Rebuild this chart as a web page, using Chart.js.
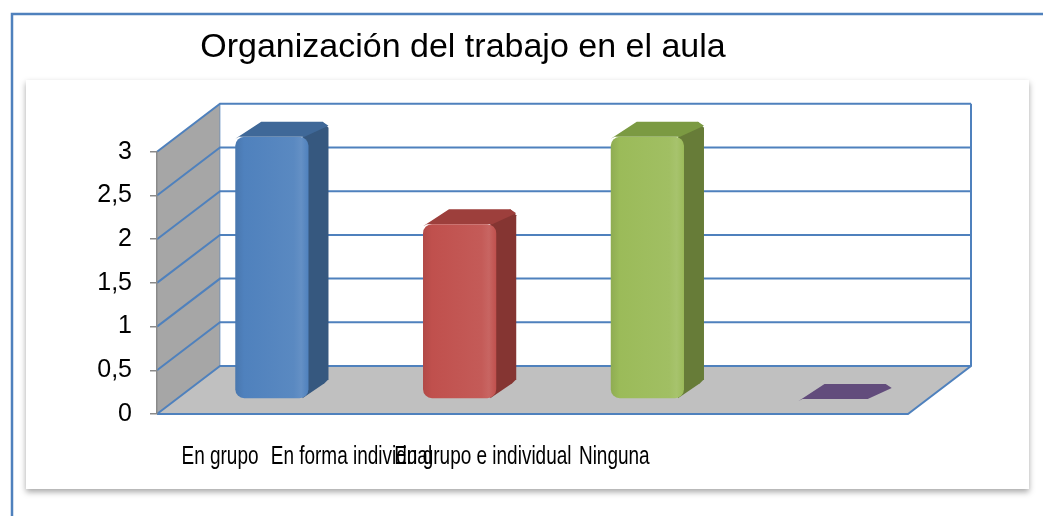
<!DOCTYPE html>
<html>
<head>
<meta charset="utf-8">
<script src="https://cdn.jsdelivr.net/npm/chart.js@4/dist/chart.umd.min.js"></script>
<style>
  html, body { margin: 0; padding: 0; background: #fff; }
  #chart { display: block; }
</style>
</head>
<body>
<canvas id="chart" width="1043" height="516"></canvas>
<script>
// Datos
const categories = ['En grupo', 'En forma individual', 'En grupo e individual', 'Ninguna'];
const values = [3, 2, 3, 0];
const yTicks = [0, 0.5, 1, 1.5, 2, 2.5, 3];

// colores de cada barra (frente, lado, tapa)
const frontColors = ['#4f81bd', '#c0504d', '#9bbb59', '#8064a2'];
const sideColors = ['#36587f', '#853532', '#677c38', '#4f3d66'];
const topColors = ['#3f6898', '#9d3f3c', '#7b9a42', '#624c7c'];

// efecto 3D
const DEPTH_X = 63, DEPTH_Y = -48;   // profundidad del piso/pared
const SHIFT_X = 21, SHIFT_Y = -15;   // plano de las barras
const BAR_DX = 20, BAR_DY = -15;     // grosor de cada barra
const BAR_PCT = 0.39;
const FONT = '"Liberation Sans", Arial, sans-serif';
const GRID = '#4f81bd';

function poly(c, pts, fill) {
  c.beginPath();
  pts.forEach((p, i) => i ? c.lineTo(p[0], p[1]) : c.moveTo(p[0], p[1]));
  c.closePath();
  c.fillStyle = fill;
  c.fill();
}

function mix(hex, amt) {
  const n = parseInt(hex.slice(1), 16);
  const ch = [n >> 16, (n >> 8) & 255, n & 255].map(v => {
    const t = amt > 0 ? 255 : 0;
    return Math.round(v + (t - v) * Math.abs(amt));
  });
  return `rgb(${ch.join(',')})`;
}

const box3d = {
  id: 'box3d',
  beforeDraw(chart) {
    const { ctx: c, chartArea: a, scales: { y } } = chart;
    c.save();
    // marco exterior
    c.strokeStyle = '#4f81bd';
    c.lineWidth = 2.5;
    c.beginPath();
    c.moveTo(12, chart.height); c.lineTo(12, 14); c.lineTo(chart.width, 14);
    c.stroke();
    // caja interior con sombra
    c.shadowColor = 'rgba(0,0,0,0.35)';
    c.shadowBlur = 6;
    c.shadowOffsetY = 3;
    c.fillStyle = '#fff';
    c.fillRect(26, 80, 1003, 409);
    c.restore();

    const y0 = y.getPixelForValue(0), yTop = y.getPixelForValue(y.max);
    c.save();
    // pared izquierda
    poly(c, [[a.left, yTop], [a.left, y0], [a.left + DEPTH_X, y0 + DEPTH_Y], [a.left + DEPTH_X, yTop + DEPTH_Y]], '#a6a6a6');
    // piso
    poly(c, [[a.left, y0], [a.right, y0], [a.right + DEPTH_X, y0 + DEPTH_Y], [a.left + DEPTH_X, y0 + DEPTH_Y]], '#c0c0c0');
    // líneas de división
    c.strokeStyle = GRID;
    c.lineWidth = 2;
    c.beginPath();
    yTicks.forEach(v => {
      const p = y.getPixelForValue(v);
      c.moveTo(a.left, p);
      c.lineTo(a.left + DEPTH_X, p + DEPTH_Y);
      c.lineTo(a.right + DEPTH_X, p + DEPTH_Y);
    });
    c.moveTo(a.right + DEPTH_X, yTop + DEPTH_Y);
    c.lineTo(a.right + DEPTH_X, y0 + DEPTH_Y);
    c.lineTo(a.right, y0);
    c.lineTo(a.left, y0);
    c.stroke();
    c.strokeStyle = 'rgba(79,129,189,0.6)';
    c.lineWidth = 1;
    c.beginPath();
    c.moveTo(a.left + DEPTH_X, yTop + DEPTH_Y);
    c.lineTo(a.left + DEPTH_X, y0 + DEPTH_Y);
    c.stroke();
    c.restore();
  },
  beforeDatasetsDraw(chart) {
    const c = chart.ctx;
    c.save();
    c.translate(SHIFT_X, SHIFT_Y);
    chart.getDatasetMeta(0).data.forEach((bar, i) => {
      const l = bar.x - bar.width / 2, r = bar.x + bar.width / 2;
      if (bar.base - bar.y > 1) {
        poly(c, [[r - 6, bar.y], [r - 6, bar.base], [r + BAR_DX - 4, bar.base + BAR_DY], [r + BAR_DX, bar.base + BAR_DY - 4],
                 [r + BAR_DX, bar.y + BAR_DY + 6], [r + BAR_DX - 6, bar.y + BAR_DY]], sideColors[i]);
      }
      poly(c, [[l + 4, bar.y], [r - 4, bar.y], [r + BAR_DX, bar.y + BAR_DY + 4], [r + BAR_DX - 6, bar.y + BAR_DY],
               [l + BAR_DX + 6, bar.y + BAR_DY], [l, bar.y + 2]], topColors[i]);
    });
  },
  afterDatasetsDraw(chart) {
    chart.ctx.restore();
  },
  afterDraw(chart) {
    // etiquetas de categorías (estrechas, como en el original)
    const { ctx: c, chartArea: a, scales: { x, y } } = chart;
    const step = x.width / categories.length * 0.7;
    const base = y.getPixelForValue(0) + 50;
    c.save();
    c.font = '26px ' + FONT;
    c.fillStyle = '#000';
    c.textAlign = 'center';
    c.textBaseline = 'alphabetic';
    categories.forEach((t, i) => {
      c.save();
      c.translate(a.left + DEPTH_X + i * step, base);
      c.scale(0.73, 1);
      c.fillText(t, 0, 0);
      c.restore();
    });
    c.restore();
  }
};

function frontFill(ctx) {
  const chart = ctx.chart, x = chart.scales.x, i = ctx.dataIndex;
  if (!x || i === undefined || !chart.chartArea) return frontColors[i || 0];
  const cx = x.getPixelForValue(i), half = x.width / categories.length * BAR_PCT / 2;
  if (!isFinite(cx) || !isFinite(half) || half <= 0) return frontColors[i];
  const g = chart.ctx.createLinearGradient(cx - half, 0, cx + half, 0);
  g.addColorStop(0, mix(frontColors[i], -0.08));
  g.addColorStop(0.12, frontColors[i]);
  g.addColorStop(0.8, mix(frontColors[i], 0.06));
  g.addColorStop(0.9, mix(frontColors[i], 0.12));
  g.addColorStop(1, frontColors[i]);
  return g;
}

new Chart(document.getElementById('chart'), {
  type: 'bar',
  data: {
    labels: categories,
    datasets: [{
      data: values,
      backgroundColor: frontFill,
      borderWidth: 0,
      borderRadius: 9,
      borderSkipped: false,
      categoryPercentage: 1,
      barPercentage: BAR_PCT
    }]
  },
  options: {
    responsive: false,
    animation: false,
    layout: { padding: { left: 18, right: 135, top: 0, bottom: 102 } },
    plugins: {
      legend: { display: false },
      tooltip: { enabled: false },
      title: {
        display: true,
        text: 'Organización del trabajo en el aula',
        color: '#000',
        font: { family: FONT, size: 34, weight: 'normal', lineHeight: 1.2 },
        padding: { top: 27, bottom: 84 }
      }
    },
    scales: {
      x: { display: false },
      y: {
        min: 0,
        max: 3,
        afterFit: scale => { scale.width = 139; },
        afterBuildTicks: scale => { scale.ticks = yTicks.map(v => ({ value: v })); },
        border: { display: true, color: '#8a8a8a', width: 1.5 },
        grid: { drawOnChartArea: false, drawTicks: true, tickLength: 7, color: '#8a8a8a', lineWidth: 1.5 },
        ticks: {
          padding: 18,
          color: '#000',
          font: { family: FONT, size: 25 },
          callback: v => String(v).replace('.', ',')
        }
      }
    }
  },
  plugins: [box3d]
});
</script>
</body>
</html>
